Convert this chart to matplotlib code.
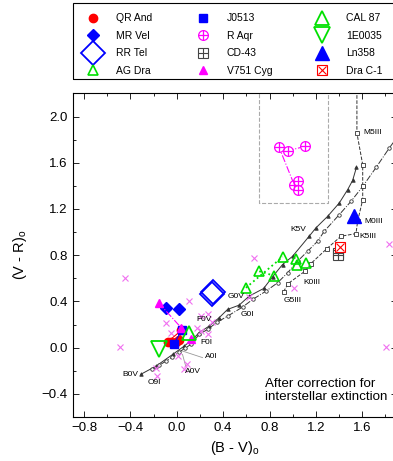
import matplotlib
matplotlib.use("Agg")
import matplotlib.pyplot as plt
from matplotlib.ticker import MultipleLocator
from matplotlib.legend_handler import HandlerTuple
from matplotlib.patches import Rectangle

plt.rcParams["font.family"] = ["Liberation Sans", "DejaVu Sans"]
plt.rcParams["mathtext.fontset"] = "custom"
plt.rcParams["mathtext.rm"] = "Liberation Sans"
plt.rcParams["mathtext.it"] = "Liberation Sans"

# intrinsic colour sequences
dwarf_bv = [-0.31, -0.18, -0.035, 0.06, 0.136, 0.193, 0.279, 0.365, 0.438, 0.538, 0.624,
            0.749, 0.826, 0.912, 0.999, 1.142, 1.20, 1.301, 1.402, 1.474, 1.517, 1.55]
dwarf_vr = [-0.23, -0.16, -0.058, 0.011, 0.072, 0.13, 0.187, 0.259, 0.331, 0.368, 0.446,
            0.512, 0.613, 0.719, 0.791, 0.964, 1.036, 1.136, 1.252, 1.367, 1.447, 1.56]

sg_bv = [-0.21, -0.15, -0.095, -0.04, 0.017, 0.07, 0.121, 0.193, 0.265, 0.345, 0.438, 0.567,
         0.654, 0.769, 0.869, 0.956, 1.042, 1.128, 1.215, 1.272, 1.402, 1.503, 1.604, 1.72, 1.833, 1.93]
sg_vr = [-0.187, -0.15, -0.118, -0.08, -0.041, -0.005, 0.028, 0.115, 0.158, 0.218, 0.273, 0.351,
         0.417, 0.489, 0.561, 0.648, 0.748, 0.834, 0.921, 1.007, 1.151, 1.266, 1.395, 1.56, 1.727, 1.86]

giant_bv = [0.921, 0.961, 1.105, 1.157, 1.295, 1.416, 1.546, 1.560, 1.604, 1.604, 1.604, 1.554, 1.554]
giant_vr = [0.484, 0.555, 0.661, 0.728, 0.857, 0.964, 0.987, 1.093, 1.281, 1.396, 1.583, 1.857, 2.35]

spt_names = ["B0V", "O9I", "A0V", "A0I", "F0I", "F0V", "G0I", "G0V", "G5III", "K0III",
             "K5V", "K5III", "M0III", "M5III"]
spt_x = [-0.33, -0.25, 0.069, 0.242, 0.207, 0.173, 0.553, 0.44, 0.924, 1.088,
         0.984, 1.572, 1.615, 1.606]
spt_y = [-0.231, -0.30, -0.21, -0.075, 0.048, 0.244, 0.288, 0.443, 0.411, 0.564,
         1.022, 0.961, 1.093, 1.859]

# symbiotic stars
qr_bv = [-0.08, 0.04, 0.02, -0.01, -0.05]
qr_vr = [0.05, 0.15, 0.07, 0.05, 0.045]
mrvel_bv = [-0.09, 0.015]
mrvel_vr = [0.345, 0.335]
rrtel_bv = [0.30, 0.315]
rrtel_vr = [0.468, 0.482]
agdra_bv = [0.596, 0.711, 0.835, 0.913, 1.028, 1.036, 1.114]
agdra_vr = [0.518, 0.661, 0.624, 0.786, 0.769, 0.711, 0.734]
agdra_links = [(0, 3), (1, 2)]
j0513_bv = [0.045, -0.025]
j0513_vr = [0.155, 0.032]
raqr_bv = [1.105, 0.956, 0.883, 1.013, 1.047, 1.047]
raqr_vr = [1.741, 1.704, 1.732, 1.410, 1.445, 1.367]
cd43_bv = [1.388, 1.392]
cd43_vr = [0.820, 0.800]
v751_bv = [-0.158, 0.04, 0.121]
v751_vr = [0.389, 0.17, 0.072]
cal87_bv = [0.106]
cal87_vr = [0.13]
e0035_bv = [-0.153]
e0035_vr = [-0.015]
ln358_bv = [1.531]
ln358_vr = [1.136]
drac1_bv = [1.410]
drac1_vr = [0.872]

# field stars
field_bv = [-0.446, -0.49, 0.668, 0.106, -0.095, -0.052, 0.092, 0.006, -0.181, 0.207,
            0.265, 0.265, 0.178, 0.207, 1.008, 1.805, 1.828, 0.063, -0.167, 0.62, 0.30]
field_vr = [0.604, 0.005, 0.777, 0.402, 0.216, 0.130, -0.144, -0.073, -0.173, 0.273,
            0.288, 0.115, 0.173, 0.143, 0.518, 0.005, 0.90, -0.187, -0.245, 0.44, 0.22]

raqr_box_bv = [0.711, 1.307]
raqr_box_vr = [1.252, 2.35]

red, blue, green, mag = "#ff0000", "#0000ff", "#00e000", "#ff00ff"

fig = plt.figure(figsize=(3.93, 4.61), dpi=100)
ax = fig.add_axes([0.1845, 0.0954, 0.8257, 0.702])

seq = dict(color="#333333", lw=0.7, ms=2.5, mew=0.6)
ax.plot(dwarf_bv, dwarf_vr, "-", marker="^", mfc="#333333", **seq)
ax.plot(sg_bv, sg_vr, "-.", marker="o", mfc="white", **seq)
ax.plot(giant_bv, giant_vr, "--", marker="s", mfc="white", **seq)
for name, x, y in zip(spt_names, spt_x, spt_y):
    ax.text(x, y, name, fontsize=6, ha="right" if name == "B0V" else "left", va="center")
ax.plot([0.049, 0.222], [-0.029, -0.086], color="#999999", lw=0.6)
ax.plot([0.049, 0.078], [-0.058, -0.164], color="#999999", lw=0.6)

x0, x1 = raqr_box_bv
y0, y1 = raqr_box_vr
ax.plot([x0, x0, x1, x1], [y1, y0, y0, y1], "--", color="#aaaaaa", lw=0.8)

ax.plot(field_bv, field_vr, "x", color="#f070f0", ms=5, mew=0.8, ls="none")

ax.plot(qr_bv, qr_vr, "-", color=red, lw=0.8)
h_qr, = ax.plot(qr_bv, qr_vr, "o", color=red, ms=6, ls="none")
ax.plot(j0513_bv, j0513_vr, "-", color=blue, lw=0.8)
h_j, = ax.plot(j0513_bv, j0513_vr, "s", color=blue, ms=5.5, ls="none")
h_mr, = ax.plot(mrvel_bv, mrvel_vr, "D", color=blue, ms=6, ls="none")
h_rr, = ax.plot(rrtel_bv, rrtel_vr, "D", mfc="none", mec=blue, ms=12, mew=1.3, ls="none")
ax.plot(v751_bv[:2], v751_vr[:2], "-.", color=mag, lw=0.8)
h_v, = ax.plot(v751_bv, v751_vr, "^", color=mag, ms=5.5, ls="none")
for i, j in agdra_links:
    ax.plot([agdra_bv[i], agdra_bv[j]], [agdra_vr[i], agdra_vr[j]], ":", color=green, lw=1.3)
h_ag, = ax.plot(agdra_bv, agdra_vr, "^", mfc="none", mec=green, ms=6.5, mew=1.2, ls="none")
ax.plot(raqr_bv, raqr_vr, "-.", color=mag, lw=0.8)
h_ra1, = ax.plot(raqr_bv, raqr_vr, "o", mfc="white", mec=mag, ms=7, mew=0.9, ls="none")
h_ra2, = ax.plot(raqr_bv, raqr_vr, "+", color=mag, ms=7, mew=0.9, ls="none")
h_cd1, = ax.plot(cd43_bv, cd43_vr, "s", mfc="white", mec="#444444", ms=7, mew=0.8, ls="none")
h_cd2, = ax.plot(cd43_bv, cd43_vr, "+", color="#444444", ms=7, mew=0.8, ls="none")
h_cal, = ax.plot(cal87_bv, cal87_vr, "^", mfc="none", mec=green, ms=10, mew=1.3, ls="none")
h_e, = ax.plot(e0035_bv, e0035_vr, "v", mfc="none", mec=green, ms=11, mew=1.3, ls="none")
h_ln, = ax.plot(ln358_bv, ln358_vr, "^", color=blue, ms=10, ls="none")
h_dc1, = ax.plot(drac1_bv, drac1_vr, "s", mfc="white", mec=red, ms=7, mew=0.8, ls="none")
h_dc2, = ax.plot(drac1_bv, drac1_vr, "x", color=red, ms=6, mew=0.8, ls="none")

ax.text(0.76, -0.37, "After correction for\ninterstellar extinction", fontsize=9.6,
        ha="left", va="center", linespacing=1.15)

ax.xaxis.set_major_locator(MultipleLocator(0.4))
ax.xaxis.set_minor_locator(MultipleLocator(0.2))
ax.yaxis.set_major_locator(MultipleLocator(0.4))
ax.yaxis.set_minor_locator(MultipleLocator(0.2))
ax.xaxis.set_major_formatter("{x:.1f}")
ax.yaxis.set_major_formatter("{x:.1f}")
ax.set_xlim(-0.9, 1.9)
ax.set_ylim(-0.6, 2.2)
ax.tick_params(which="both", direction="in", top=True, right=True, labelsize=9.5)
ax.tick_params(which="major", length=4, width=0.6)
ax.tick_params(which="minor", length=2.5, width=0.6)
for s in ax.spines.values():
    s.set_linewidth(0.8)
ax.set_xlabel("(B - V)$_\\mathrm{o}$", fontsize=10.5, labelpad=4)
ax.set_ylabel("(V - R)$_\\mathrm{o}$", fontsize=10.5, labelpad=9)

handles = [h_qr, h_mr, h_rr, h_ag, h_j, (h_ra1, h_ra2), (h_cd1, h_cd2), h_v,
           h_cal, h_e, h_ln, (h_dc1, h_dc2)]
labels = ["QR And", "MR Vel", "RR Tel", "AG Dra", "J0513", "R Aqr", "CD-43", "V751 Cyg",
          "CAL 87", "1E0035", "Ln358", "Dra C-1"]
fig.legend(handles, labels, ncol=3, loc="upper left",
           bbox_to_anchor=(0.193, 0.78, 0.794, 0.2026), mode="expand",
           handler_map={tuple: HandlerTuple(ndivide=1)},
           fontsize=7.5, frameon=False, borderaxespad=0, handletextpad=1.2,
           labelspacing=0.72, columnspacing=1.0, borderpad=0.5, handlelength=2.2)
fig.patches.append(Rectangle((0.1845, 1 - 79 / 461), 0.84, 76 / 461, transform=fig.transFigure,
                             fill=False, edgecolor="black", lw=0.8))

fig.savefig("out.png", dpi=100)
